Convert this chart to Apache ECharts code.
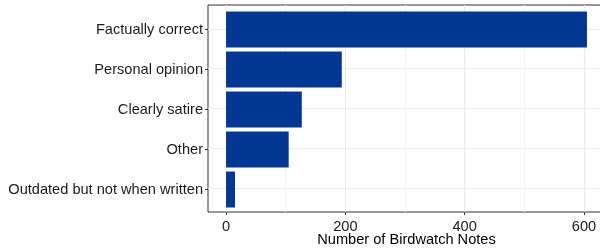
<!DOCTYPE html>
<html lang="en" style="height: 100%">
  <head>
    <meta charset="utf-8" />
    <script src="https://cdn.jsdelivr.net/npm/echarts@6/dist/echarts.min.js"></script>
  </head>
  <body style="height: 100%; margin: 0; background: #fff">
    <div id="container" style="width: 600px; height: 249px"></div>
    <script type="text/javascript">
      var categories = [
        "Factually correct",
        "Personal opinion",
        "Clearly satire",
        "Other",
        "Outdated but not when written",
      ];
      var noteCounts = [605, 194, 127, 105, 15];
      var majorTicks = [0, 200, 400, 600];
      var minorTicks = [100, 300, 500];
      var categoryPositions = [1, 2, 3, 4, 5];

      var font = "Liberation Sans, Arial, sans-serif";
      var fontSize = 14.6;
      var xMin = -30.25;
      var xMax = 635.25;

      var myChart = echarts.init(document.getElementById("container"), null, {
        renderer: "canvas",
      });

      var option = {
        animation: false,
        grid: [
          // panel (border + gridlines), ggplot style expansion
          {
            left: 208,
            top: 5,
            width: 397,
            height: 207,
            outerBoundsMode: "none",
            containLabel: false,
            show: true,
            borderColor: "#333333",
            borderWidth: 1,
            backgroundColor: "transparent",
          },
          // bars
          {
            left: 208,
            top: 9.5,
            width: 397,
            height: 200,
            outerBoundsMode: "none",
            containLabel: false,
          },
        ],
        xAxis: [
          {
            gridIndex: 0,
            type: "value",
            min: xMin,
            max: xMax,
            name: "Number of Birdwatch Notes",
            nameLocation: "middle",
            nameGap: 20,
            nameMoveOverlap: false,
            nameTextStyle: { fontFamily: font, fontSize: fontSize, color: "#000" },
            axisLine: { show: false, onZero: false },
            axisTick: {
              show: true,
              customValues: majorTicks,
              length: 3,
              lineStyle: { color: "#333333" },
            },
            axisLabel: {
              customValues: majorTicks,
              fontFamily: font,
              fontSize: fontSize,
              color: "#1a1a1a",
              margin: 7,
            },
            splitLine: { show: true, lineStyle: { color: "#ebebeb", width: 1 } },
          },
          {
            gridIndex: 0,
            type: "value",
            position: "top",
            min: xMin,
            max: xMax,
            axisLine: { show: false, onZero: false },
            axisTick: { show: false, customValues: minorTicks },
            axisLabel: { show: false, customValues: minorTicks },
            splitLine: { show: true, lineStyle: { color: "#f3f3f3", width: 1 } },
          },
          {
            gridIndex: 1,
            type: "value",
            min: xMin,
            max: xMax,
            show: false,
          },
        ],
        yAxis: [
          {
            gridIndex: 0,
            type: "value",
            min: 0.4,
            max: 5.6,
            inverse: true,
            axisLine: { show: false, onZero: false },
            axisTick: { show: false, customValues: categoryPositions },
            axisLabel: { show: false, customValues: categoryPositions },
            splitLine: { show: true, lineStyle: { color: "#ebebeb", width: 1 } },
          },
          {
            gridIndex: 1,
            type: "category",
            data: categories,
            inverse: true,
            axisLine: { show: false, onZero: false },
            axisTick: {
              show: true,
              alignWithLabel: true,
              length: 3,
              lineStyle: { color: "#333333" },
            },
            axisLabel: {
              fontFamily: font,
              fontSize: fontSize,
              color: "#1a1a1a",
              margin: 5,
            },
            splitLine: { show: false },
          },
        ],
        series: [
          {
            type: "bar",
            xAxisIndex: 2,
            yAxisIndex: 1,
            data: noteCounts,
            barWidth: "90%",
            itemStyle: { color: "#023893" },
          },
        ],
      };

      myChart.setOption(option);
      window.addEventListener("resize", myChart.resize);
    </script>
  </body>
</html>
